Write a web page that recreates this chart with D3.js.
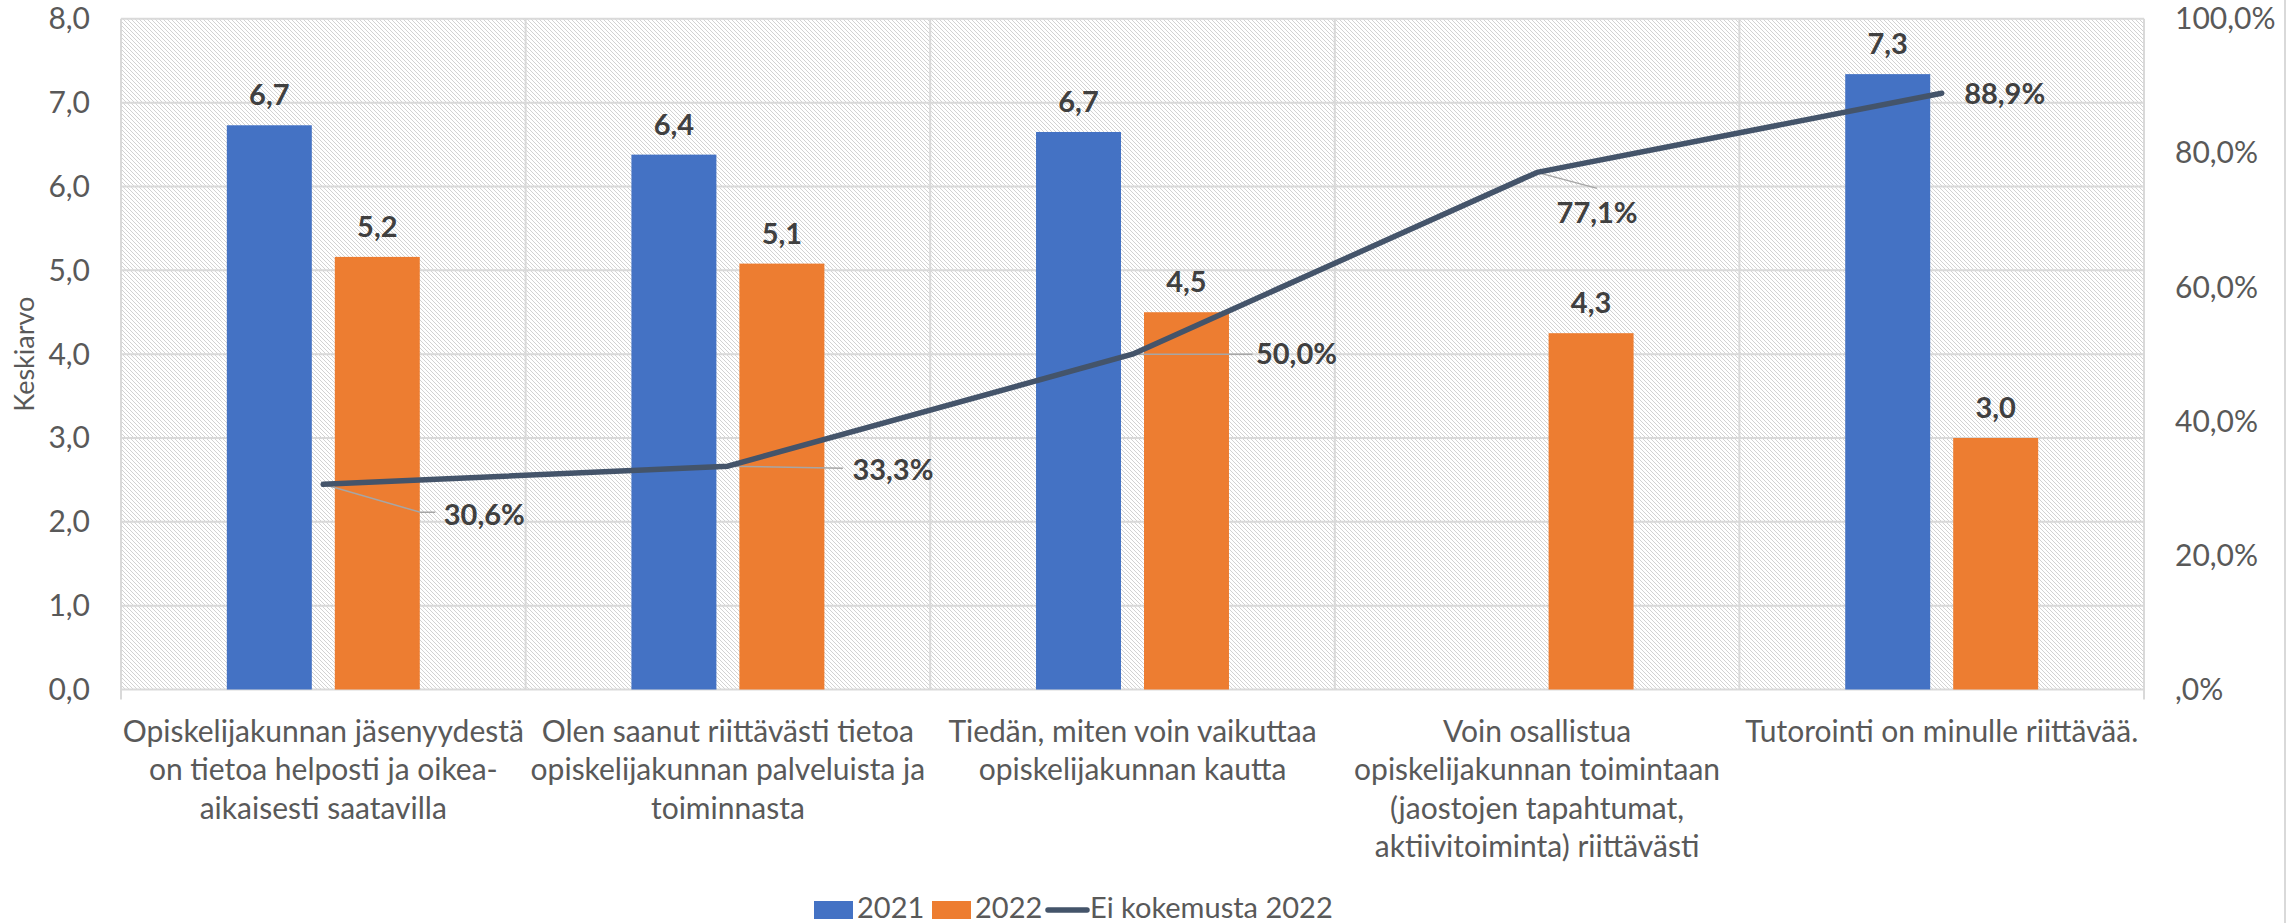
<!DOCTYPE html>
<html>
<head>
<meta charset="utf-8">
<script src="https://cdn.jsdelivr.net/npm/d3@7"></script>
<style>
  body { margin: 0; background: #fff; }
  svg text { font-family: Lato, "Open Sans", sans-serif; }
</style>
</head>
<body>
<svg id="chart" width="2295" height="923"></svg>
<script>
// chart data
var categories = [
  ['Opiskelijakunnan jäsenyydestä', 'on tietoa helposti ja oikea-', 'aikaisesti saatavilla'],
  ['Olen saanut riittävästi tietoa', 'opiskelijakunnan palveluista ja', 'toiminnasta'],
  ['Tiedän, miten voin vaikuttaa', 'opiskelijakunnan kautta'],
  ['Voin osallistua', 'opiskelijakunnan toimintaan', '(jaostojen tapahtumat,', 'aktiivitoiminta) riittävästi'],
  ['Tutorointi on minulle riittävää.']
];
var series = ['2021', '2022'];
var values2021 = [6.73, 6.38, 6.65, null, 7.34];
var values2022 = [5.16, 5.08, 4.50, 4.25, 3.00];
var noExperience2022 = [0.306, 0.333, 0.500, 0.771, 0.889];
var leftTicks = [0, 1, 2, 3, 4, 5, 6, 7, 8];
var rightTicks = [0, 0.2, 0.4, 0.6, 0.8, 1.0];

// where the line labels sit, relative to their point [dx, dy of baseline, leader end dx, dy]
var lineLabelOffsets = [
  [161, 41, 97, 28],
  [165, 14, 115, 2],
  [164, 10, 120, 0],
  [60, 51, 60, 16],
  [63, 11, null, null]
];

var colors = { '2021': '#4472C4', '2022': '#ED7D31', line: '#44546A' };

var chart_width = 2295, chart_height = 923;
var plot = { left: 121, right: 2144, top: 18.8, bottom: 689.5 };

var svg = d3.select('#chart');

// hatch fill for plot background
var defs = svg.append('defs');
var hatch = defs.append('pattern')
  .attr('id', 'hatch')
  .attr('patternUnits', 'userSpaceOnUse')
  .attr('width', 4)
  .attr('height', 4);
hatch.append('path')
  .attr('d', 'M-1,-1 L5,5 M3,-1 L5,1 M-1,3 L1,5')
  .attr('stroke', '#d2d2d2')
  .attr('stroke-width', 1);

// scales
var x = d3.scaleBand()
  .domain(d3.range(categories.length))
  .range([plot.left, plot.right]);
var xSub = d3.scaleBand()
  .domain(series)
  .range([0, x.bandwidth()])
  .paddingInner(0.213)
  .paddingOuter(0.98);
var y = d3.scaleLinear().domain([0, 8]).range([plot.bottom, plot.top]);
var y2 = d3.scaleLinear().domain([0, 1]).range([plot.bottom, plot.top]);

svg.append('rect')
  .attr('x', plot.left)
  .attr('y', plot.top)
  .attr('width', plot.right - plot.left)
  .attr('height', plot.bottom - plot.top)
  .attr('fill', 'url(#hatch)');

// horizontal gridlines
svg.append('g').selectAll('line')
  .data(leftTicks)
  .enter()
  .append('line')
  .attr('x1', plot.left)
  .attr('x2', plot.right)
  .attr('y1', function(d) { return y(d); })
  .attr('y2', function(d) { return y(d); })
  .attr('stroke', '#d9d9d9')
  .attr('stroke-width', 2);

// vertical gridlines between categories (plus the two axis lines)
var vlines = d3.range(categories.length + 1).map(function(i) {
  return i < categories.length ? x(i) : plot.right;
});
svg.append('g').selectAll('line')
  .data(vlines)
  .enter()
  .append('line')
  .attr('x1', function(d) { return d; })
  .attr('x2', function(d) { return d; })
  .attr('y1', plot.top)
  .attr('y2', function(d, i) { return (i === 0 || i === vlines.length - 1) ? plot.bottom + 10 : plot.bottom; })
  .attr('stroke', '#d9d9d9')
  .attr('stroke-width', 2);

// outer chart border on the right
svg.append('line')
  .attr('x1', 2285).attr('x2', 2285)
  .attr('y1', 0).attr('y2', chart_height)
  .attr('stroke', '#d9d9d9')
  .attr('stroke-width', 2);

// left axis labels
svg.append('g').selectAll('text')
  .data(leftTicks)
  .enter()
  .append('text')
  .attr('x', 90)
  .attr('y', function(d) { return y(d) + 10.5; })
  .attr('text-anchor', 'end')
  .attr('font-size', 30)
  .attr('fill', '#595959')
  .text(function(d) { return d.toFixed(1).replace('.', ','); });

// right axis labels
svg.append('g').selectAll('text')
  .data(rightTicks)
  .enter()
  .append('text')
  .attr('x', 2175)
  .attr('y', function(d) { return y2(d) + 10.5; })
  .attr('text-anchor', 'start')
  .attr('font-size', 30)
  .attr('fill', '#595959')
  .text(function(d) {
    var s = (d * 100).toFixed(1).replace('.', ',') + '%';
    return s.indexOf('0,0') === 0 ? s.slice(1) : s;
  });

// y axis title
svg.append('text')
  .attr('transform', 'translate(34,' + ((plot.top + plot.bottom) / 2) + ') rotate(-90)')
  .attr('text-anchor', 'middle')
  .attr('font-size', 27)
  .attr('fill', '#595959')
  .text('Keskiarvo');

// category labels
var catLabels = svg.append('g').selectAll('text')
  .data(categories)
  .enter()
  .append('text')
  .attr('text-anchor', 'middle')
  .attr('font-size', 30)
  .attr('fill', '#595959');
catLabels.selectAll('tspan')
  .data(function(d, i) { return d.map(function(t) { return { t: t, i: i }; }); })
  .enter()
  .append('tspan')
  .attr('x', function(d) { return x(d.i) + x.bandwidth() / 2; })
  .attr('y', function(d, j) { return 742 + j * 38.3; })
  .text(function(d) { return d.t; });

// bars
var barData = [];
categories.forEach(function(c, i) {
  if (values2021[i] !== null) barData.push({ i: i, s: '2021', v: values2021[i] });
  if (values2022[i] !== null) barData.push({ i: i, s: '2022', v: values2022[i] });
});

svg.append('g').selectAll('rect')
  .data(barData)
  .enter()
  .append('rect')
  .attr('x', function(d) { return x(d.i) + xSub(d.s); })
  .attr('y', function(d) { return y(d.v); })
  .attr('width', xSub.bandwidth())
  .attr('height', function(d) { return y(0) - y(d.v); })
  .attr('fill', function(d) { return colors[d.s]; });

svg.append('g').selectAll('text')
  .data(barData)
  .enter()
  .append('text')
  .attr('x', function(d) { return x(d.i) + xSub(d.s) + xSub.bandwidth() / 2; })
  .attr('y', function(d) { return y(d.v) - 20; })
  .attr('text-anchor', 'middle')
  .attr('font-size', 29)
  .attr('font-weight', 'bold')
  .attr('fill', '#404040')
  .text(function(d) { return d.v.toFixed(1).replace('.', ','); });

// line series
var pts = noExperience2022.map(function(v, i) {
  return { px: x(i) + x.bandwidth() / 2, py: y2(v), v: v, i: i };
});

// leader lines first so the series sits on top
svg.append('g').selectAll('path')
  .data(pts.filter(function(d) { return lineLabelOffsets[d.i][2] !== null; }))
  .enter()
  .append('path')
  .attr('d', function(d) {
    var o = lineLabelOffsets[d.i];
    var ex = d.px + o[2], ey = d.py + o[3];
    var path = 'M' + d.px + ',' + d.py + ' L' + ex + ',' + ey;
    if (d.i === 0) path += ' L' + (ex + 15) + ',' + ey;
    return path;
  })
  .attr('fill', 'none')
  .attr('stroke', '#a6a6a6')
  .attr('stroke-width', 1.5);

svg.append('path')
  .datum(pts)
  .attr('d', d3.line().x(function(d) { return d.px; }).y(function(d) { return d.py; }))
  .attr('fill', 'none')
  .attr('stroke', colors.line)
  .attr('stroke-width', 5.5)
  .attr('stroke-linecap', 'round')
  .attr('stroke-linejoin', 'round');

svg.append('g').selectAll('text')
  .data(pts)
  .enter()
  .append('text')
  .attr('x', function(d) { return d.px + lineLabelOffsets[d.i][0]; })
  .attr('y', function(d) { return d.py + lineLabelOffsets[d.i][1]; })
  .attr('text-anchor', 'middle')
  .attr('font-size', 29)
  .attr('font-weight', 'bold')
  .attr('fill', '#404040')
  .text(function(d) { return (d.v * 100).toFixed(1).replace('.', ',') + '%'; });

// legend
var legend = svg.append('g');
legend.append('rect').attr('x', 814).attr('y', 901).attr('width', 39).attr('height', 18).attr('fill', colors['2021']);
legend.append('text').attr('x', 857).attr('y', 918).attr('font-size', 29).attr('fill', '#595959').text('2021');
legend.append('rect').attr('x', 932).attr('y', 901).attr('width', 39).attr('height', 18).attr('fill', colors['2022']);
legend.append('text').attr('x', 975).attr('y', 918).attr('font-size', 29).attr('fill', '#595959').text('2022');
legend.append('line')
  .attr('x1', 1048).attr('x2', 1087).attr('y1', 910).attr('y2', 910)
  .attr('stroke', colors.line).attr('stroke-width', 5.5).attr('stroke-linecap', 'round');
legend.append('text').attr('x', 1090).attr('y', 918).attr('font-size', 29).attr('fill', '#595959').text('Ei kokemusta 2022');
</script>
</body>
</html>
